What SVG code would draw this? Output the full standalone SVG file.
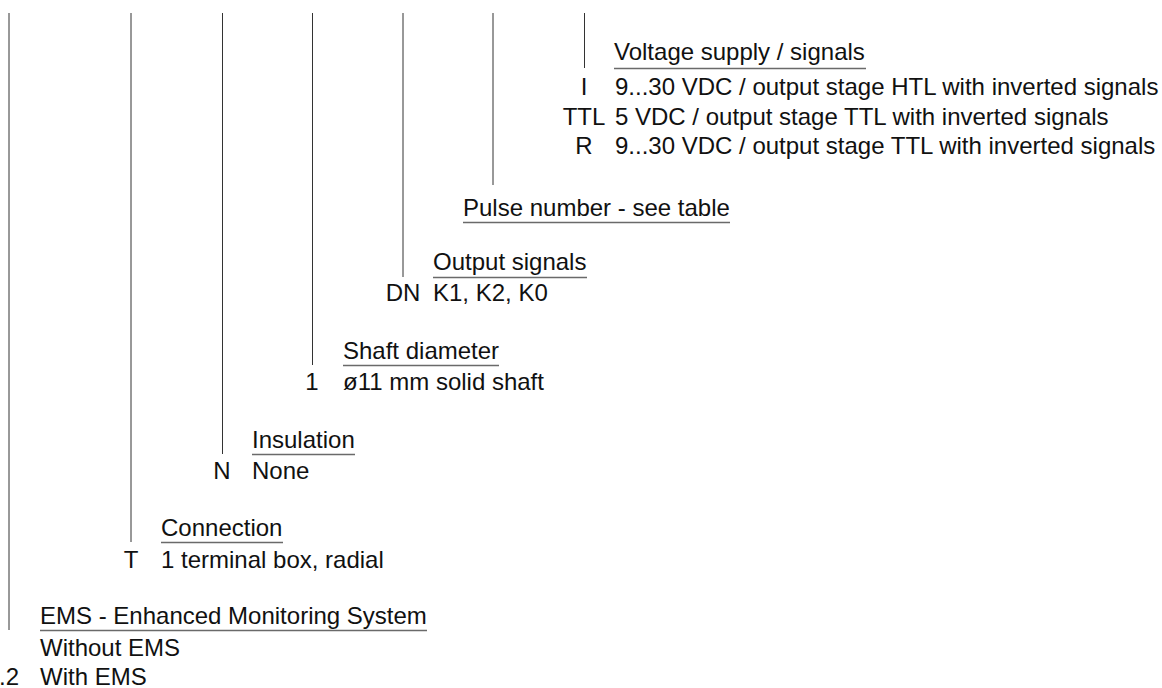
<svg xmlns="http://www.w3.org/2000/svg" width="1162" height="688" viewBox="0 0 1162 688">
<style>
text{font-family:"Liberation Sans",Arial,sans-serif;font-size:24px;fill:#111}
.c{text-anchor:middle}
.u{stroke:#6a6a6a;stroke-width:1.5;fill:none}
.v{stroke:#333;stroke-width:1;fill:none}
</style>
<rect width="1162" height="688" fill="#fff"/>
<g id="connectors">
<line class="v" x1="9" y1="13" x2="9" y2="630"/>
<line class="v" x1="131" y1="13" x2="131" y2="542"/>
<line class="v" x1="222.5" y1="13" x2="222.5" y2="454"/>
<line class="v" x1="312.5" y1="13" x2="312.5" y2="365"/>
<line class="v" x1="403" y1="13" x2="403" y2="277"/>
<line class="v" x1="493" y1="13" x2="493" y2="185"/>
<line class="v" x1="584.5" y1="13" x2="584.5" y2="68"/>
</g>
<g id="voltage">
<text x="614" y="60">Voltage supply / signals</text>
<line class="u" x1="614" y1="68.5" x2="866" y2="68.5"/>
<text class="c" x="584" y="95">I</text>
<text x="615" y="95">9...30 VDC / output stage HTL with inverted signals</text>
<text class="c" x="584" y="124.5">TTL</text>
<text x="615" y="124.5">5 VDC / output stage TTL with inverted signals</text>
<text class="c" x="584" y="154">R</text>
<text x="615" y="154">9...30 VDC / output stage TTL with inverted signals</text>
</g>
<g id="pulse">
<text x="463" y="215.5">Pulse number - see table</text>
<line class="u" x1="463" y1="222.5" x2="730" y2="222.5"/>
</g>
<g id="output">
<text x="433" y="270">Output signals</text>
<line class="u" x1="433" y1="277.5" x2="587" y2="277.5"/>
<text class="c" x="403" y="301">DN</text>
<text x="433" y="301">K1, K2, K0</text>
</g>
<g id="shaft">
<text x="343" y="359">Shaft diameter</text>
<line class="u" x1="343" y1="365.5" x2="499" y2="365.5"/>
<text class="c" x="312" y="390">1</text>
<text x="343" y="390">ø11 mm solid shaft</text>
</g>
<g id="insulation">
<text x="252" y="448">Insulation</text>
<line class="u" x1="252" y1="454.5" x2="355" y2="454.5"/>
<text class="c" x="222" y="479">N</text>
<text x="252" y="479">None</text>
</g>
<g id="connection">
<text x="161" y="536">Connection</text>
<line class="u" x1="161" y1="542.5" x2="283" y2="542.5"/>
<text class="c" x="131" y="567.5">T</text>
<text x="161" y="567.5">1 terminal box, radial</text>
</g>
<g id="ems">
<text x="40" y="624">EMS - Enhanced Monitoring System</text>
<line class="u" x1="40" y1="630.5" x2="427" y2="630.5"/>
<text x="40" y="655.5">Without EMS</text>
<text class="c" x="9" y="685">.2</text>
<text x="40" y="685">With EMS</text>
</g>
</svg>
